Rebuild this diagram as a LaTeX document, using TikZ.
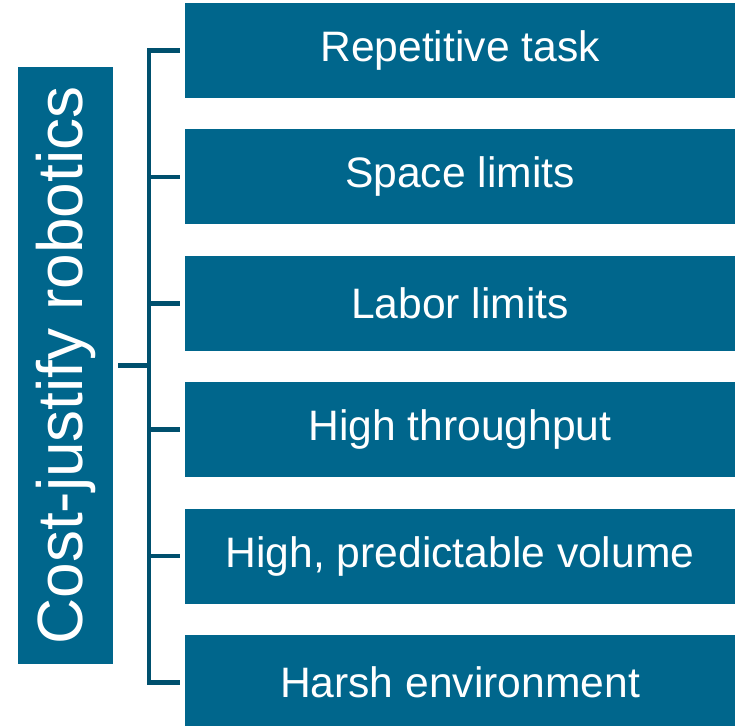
\documentclass[tikz,border=0pt]{standalone}
\usepackage{fontspec}
\setmainfont{Liberation Sans}
\usepackage{tikz}
\usetikzlibrary{positioning}
\usepackage{xcolor}
\definecolor{robotblue}{HTML}{00668C}
\definecolor{bracketblue}{HTML}{00506E}

\begin{document}
\begin{tikzpicture}[
    x=1pt, y=-1pt,
    node distance=31pt,
    item/.style={rectangle, fill=robotblue, text=white, minimum width=550pt, minimum height=95pt, inner sep=0pt, font=\fontsize{42.6}{50}\selectfont},
    sidebox/.style={rectangle, fill=robotblue, text=white, minimum width=95pt, minimum height=597pt, inner sep=0pt, font=\fontsize{64}{76}\selectfont},
    bracket/.style={line width=4.5pt, bracketblue}
]
    \useasboundingbox (0,0) rectangle (735,725);

    % Reasons
    \node[item] (r1) at (460,50.5) {Repetitive task};
    \node[item, below=of r1] (r2) {Space limits};
    \node[item, below=of r2] (r3) {Labor limits};
    \node[item, below=of r3] (r4) {High throughput};
    \node[item, below=of r4] (r5) {High, predictable volume};
    \node[item, below=of r5] (r6) {Harsh environment};

    % Side label
    \node[sidebox] (cost) at (65.5,365.5) {\rotatebox{90}{Cost-justify robotics}};

    % Bracket
    \coordinate (spine) at (149,0);
    \draw[bracket] ([xshift=-5pt]r1.west) -| (spine |- r6.west) -- ([xshift=-5pt]r6.west);
    \foreach \i in {2,...,5}
        \draw[bracket] ([xshift=-5pt]r\i.west) -- (spine |- r\i.west);
    \draw[bracket] ([xshift=5pt]cost.east) -- (spine |- cost.east);
\end{tikzpicture}
\end{document}
